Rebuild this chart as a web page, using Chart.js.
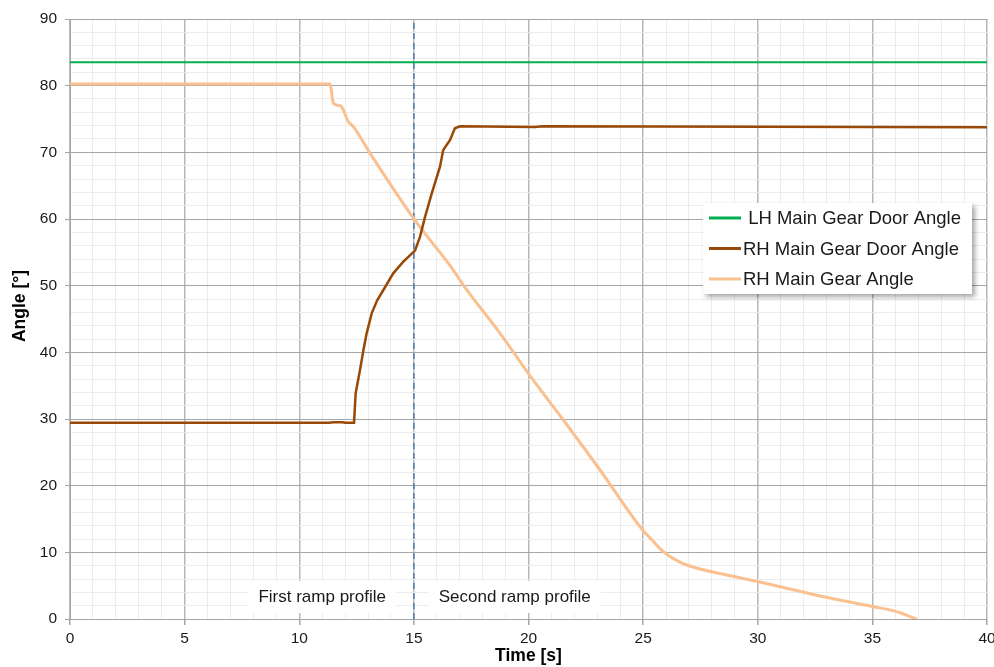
<!DOCTYPE html>
<html>
<head>
<meta charset="utf-8">
<title>Main gear door and gear angles</title>
<script src="https://cdn.jsdelivr.net/npm/chart.js@4.4.1/dist/chart.umd.min.js"></script>
<style>
  body { margin: 0; background: #fff; }
  #wrap { width: 994px; height: 667px; }
</style>
</head>
<body>
<div id="wrap"><canvas id="chart" width="994" height="667"></canvas></div>
<script>
// Series names (first one has a leading space like the original legend)
const seriesNames = [' LH Main Gear Door Angle', 'RH Main Gear Door Angle', 'RH Main Gear Angle'];
const seriesColors = ['#00b050', '#984807', '#fac090'];

// LH door - constant
const lhTime = [0, 40];
const lhAngle = [83.5, 83.5];

// RH door
const doorTime = [0, 11.3, 11.5, 11.9, 12.0, 12.39, 12.46, 12.55, 12.65, 12.8, 12.94, 13.16, 13.4, 13.67, 14.1,
    14.54, 15.05, 15.27, 15.49, 15.78, 16.14, 16.28, 16.58, 16.79, 17.01, 20.3, 20.6, 40];
const doorAngle = [29.45, 29.45, 29.52, 29.52, 29.45, 29.45, 33.85, 35.5, 37.35, 40.35, 42.85, 45.85, 47.8, 49.35, 51.85,
    53.6, 55.25, 57.35, 60.35, 63.85, 67.85, 70.35, 71.85, 73.6, 73.9, 73.8, 73.9, 73.75];

// RH gear
const gearTime = [0, 11.34, 11.49, 11.81, 12.14, 12.36, 13.09, 15.05, 16.58, 17.3, 18.76, 19.99, 21.52, 23.12,
    24.94, 25.4, 25.88, 26.3, 26.9, 28.65, 30.03, 33.0, 35.04, 35.91, 36.93];
const gearAngle = [80.25, 80.25, 77.35, 76.95, 74.6, 73.85, 69.85, 59.8, 53.0, 49.4, 42.85, 36.85, 29.85, 22.35,
    13.5, 11.8, 10.1, 9.1, 8.1, 6.6, 5.6, 3.25, 1.85, 1.25, 0];

// Ramp split marker and labels
const splitTime = [15, 15];
const splitAngle = [0, 90];
const rampLabels = ['First ramp profile', 'Second ramp profile'];
const rampLabelTime = [11.0, 19.4];
const rampLabelAngle = 3.3;

const FONT = '"Liberation Sans", Arial, sans-serif';
const zip = (xs, ys) => xs.map((x, i) => ({ x: x, y: ys[i] }));

// White boxes with the ramp labels
const rampText = {
    id: 'rampText',
    beforeDatasetsDraw(chart) {
        const ctx = chart.ctx;
        const xs = chart.scales.x, ys = chart.scales.y;
        ctx.save();
        ctx.font = '17px ' + FONT;
        ctx.textAlign = 'center';
        ctx.textBaseline = 'middle';
        rampLabels.forEach((txt, i) => {
            const px = xs.getPixelForValue(rampLabelTime[i]);
            const py = ys.getPixelForValue(rampLabelAngle);
            const w = ctx.measureText(txt).width;
            ctx.fillStyle = '#fff';
            ctx.fillRect(px - w / 2 - 10, py - 16, w + 20, 32);
            ctx.fillStyle = '#1a1a1a';
            ctx.fillText(txt, px, py);
        });
        ctx.restore();
    }
};

// Legend box with shadow and y title
const legendBox = {
    id: 'legendBox',
    afterDraw(chart) {
        const ctx = chart.ctx;
        const area = chart.chartArea;
        const x = area.right - 284, y = area.top + 184, w = 269, h = 91;
        ctx.save();
        ctx.shadowColor = 'rgba(0,0,0,0.35)';
        ctx.shadowBlur = 5;
        ctx.shadowOffsetX = 3;
        ctx.shadowOffsetY = 3;
        ctx.fillStyle = '#fff';
        ctx.fillRect(x, y, w, h);
        ctx.restore();

        ctx.save();
        ctx.font = '18.5px ' + FONT;
        ctx.textBaseline = 'middle';
        ctx.textAlign = 'left';
        seriesNames.forEach((name, i) => {
            const ry = y + 15 + i * 30.5;
            ctx.strokeStyle = seriesColors[i];
            ctx.lineWidth = 3;
            ctx.beginPath();
            ctx.moveTo(x + 6, ry);
            ctx.lineTo(x + 38, ry);
            ctx.stroke();
            ctx.fillStyle = '#1a1a1a';
            ctx.fillText(name, x + 40, ry + 1);
        });
        ctx.restore();

        // y axis title
        ctx.save();
        ctx.font = 'bold 17.5px ' + FONT;
        ctx.fillStyle = '#000';
        ctx.textAlign = 'center';
        ctx.textBaseline = 'middle';
        ctx.translate(20, 306);
        ctx.rotate(-Math.PI / 2);
        ctx.fillText('Angle [°]', 0, 0);
        ctx.restore();
    }
};

const majorGrid = '#a6a6a6';
const minorGrid = '#ececec';

new Chart(document.getElementById('chart'), {
    type: 'line',
    data: {
        datasets: [
            {
                label: seriesNames[0],
                data: zip(lhTime, lhAngle),
                borderColor: seriesColors[0],
                borderWidth: 2,
                pointRadius: 0
            },
            {
                label: seriesNames[1],
                data: zip(doorTime, doorAngle),
                borderColor: seriesColors[1],
                borderWidth: 2.5,
                pointRadius: 0
            },
            {
                label: seriesNames[2],
                data: zip(gearTime, gearAngle),
                borderColor: seriesColors[2],
                borderWidth: 3,
                pointRadius: 0,
                cubicInterpolationMode: 'monotone'
            },
            {
                label: 'split',
                data: zip(splitTime, splitAngle),
                borderColor: '#4f79b0',
                borderWidth: 1.5,
                borderDash: [6, 4],
                pointRadius: 0
            }
        ]
    },
    options: {
        responsive: false,
        animation: false,
        layout: { padding: { top: 19, right: 7, left: 0, bottom: 0 } },
        plugins: {
            legend: { display: false },
            tooltip: { enabled: false }
        },
        scales: {
            x: {
                type: 'linear',
                min: 0,
                max: 40,
                afterFit: (scale) => {
                    scale.height = 48;
                    scale.paddingLeft = 0;
                    scale.paddingRight = 0;
                },
                ticks: {
                    stepSize: 1,
                    autoSkip: false,
                    maxRotation: 0,
                    padding: 4,
                    color: '#1a1a1a',
                    font: { family: FONT, size: 15.5 },
                    callback: (v) => (v % 5 === 0 ? v : '')
                },
                grid: {
                    color: (c) => (c.tick && c.tick.value % 5 === 0 ? '#b8b8b8' : minorGrid),
                    lineWidth: (c) => (c.tick && c.tick.value % 5 === 0 ? 1.5 : 1),
                    tickColor: (c) => (c.tick && c.tick.value % 5 === 0 ? majorGrid : 'rgba(0,0,0,0)'),
                    tickLength: 6
                },
                border: { color: majorGrid },
                title: {
                    display: true,
                    text: 'Time [s]',
                    color: '#000',
                    padding: { top: 0, bottom: 0 },
                    font: { family: FONT, size: 17.5, weight: 'bold' }
                }
            },
            y: {
                min: 0,
                max: 90,
                afterFit: (scale) => { scale.width = 70; },
                ticks: {
                    stepSize: 2,
                    autoSkip: false,
                    padding: 8,
                    color: '#1a1a1a',
                    font: { family: FONT, size: 15.5 },
                    callback: (v) => (v % 10 === 0 ? v : '')
                },
                grid: {
                    color: (c) => (c.tick && c.tick.value % 10 === 0 ? majorGrid : minorGrid),
                    tickColor: (c) => (c.tick && c.tick.value % 10 === 0 ? majorGrid : 'rgba(0,0,0,0)'),
                    tickLength: 5
                },
                border: { color: majorGrid }
            }
        }
    },
    plugins: [rampText, legendBox]
});
</script>
</body>
</html>
